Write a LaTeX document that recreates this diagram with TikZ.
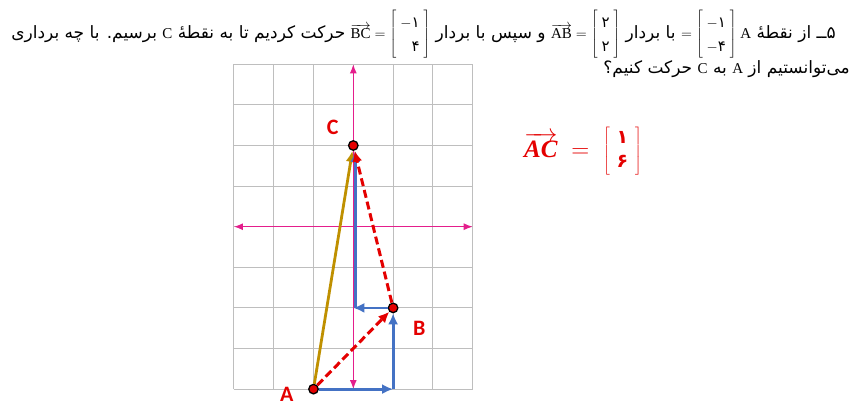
\documentclass[tikz,border=0pt]{standalone}
\usepackage{fontspec}
\setmainfont{Liberation Serif}
\newfontfamily\farsi[Script=Arabic]{DejaVu Sans}
\newfontfamily\calib{Carlito}
\TeXXeTstate=1
\usetikzlibrary{arrows.meta}

\definecolor{gridgray}{RGB}{190,190,190}
\definecolor{axispink}{RGB}{228,30,140}
\definecolor{vecblue}{RGB}{68,114,196}
\definecolor{vecgold}{RGB}{191,144,0}
\definecolor{vecred}{RGB}{228,0,0}

\newcommand{\fa}[1]{\mbox{\farsi #1}}
\newcommand{\en}[1]{\hbox{\rmfamily\fontsize{15}{18}\selectfont #1}}
\newcommand{\colvec}[2]{\def\arraystretch{1.35}\left[\begin{array}{@{\;}r@{\;}}#1\\#2\end{array}\right]}
\newcommand{\fab}[1]{\mbox{\farsi\bfseries\fontsize{19}{22}\selectfont #1}}
\newcommand{\acvec}{$\overrightarrow{\mbox{\bfseries\itshape AC}}\;=\;\def\arraystretch{0.8}\left[\begin{array}{@{\;}c@{\;}}\fab{۱}\\\fab{۶}\end{array}\right]$}

\tikzset{
  axisline/.style={axispink,line width=1.2pt,{Latex[length=9pt,width=7pt]}-{Latex[length=9pt,width=7pt]}},
  bluevec/.style={vecblue,line width=2.8pt,-{Latex[length=11pt,width=10pt]}},
  goldvec/.style={vecgold,line width=2.8pt,-{Latex[length=11pt,width=10pt]}},
  redvec/.style={vecred,line width=3pt,dash pattern=on 8pt off 4pt,-{Latex[length=11pt,width=10pt]}},
  ptdot/.style={circle,draw=black,fill=vecred,line width=1.3pt,inner sep=0pt,minimum size=9.5pt},
  lbl/.style={text=vecred,font=\calib\bfseries\fontsize{22}{22}\selectfont},
  txt/.style={font=\fontsize{17}{20}\selectfont,inner sep=0pt}
}

\begin{document}
\begin{tikzpicture}[x=1pt,y=-1pt]
\useasboundingbox (0,0) rectangle (861,413);

\begin{scope}[shift={(353.3,226.7)},x=39.8pt,y=40.6pt]
  \draw[gridgray,line width=1pt,step=1] (-3,-4) grid (3,4);
  \draw[axisline] (-3,0) -- (3,0);
  \draw[axisline] (0,-4) -- (0,4);
  \node[ptdot] (A) at (-1,-4) {};
  \node[ptdot] (B) at (1,-2) {};
  \node[ptdot] (C) at (0,2) {};
  \coordinate (A1) at (1,-4);
  \coordinate (B1) at (0,-2);
  \draw[goldvec] (A) -- (C);
  \draw[bluevec] (A) -- (A1);
  \draw[bluevec] (A1) -- (B);
  \draw[bluevec] (B) -- (B1);
  \draw[bluevec] ([xshift=2pt]B1) -- ([xshift=2pt]C.south);
  \draw[redvec] (A) -- (B);
  \draw[redvec] (B) -- (C);
  \node[lbl] (la) at (-1.67,-4.12) {A};
  \node[lbl] (lb) at (1.66,-2.5) {B};
  \node[lbl] (lc) at (-0.52,2.45) {C};
\end{scope}

\node[font=\fontsize{25}{30}\selectfont,text=vecred] (eqac) at (583,151) {\acvec};

\node[txt,anchor=base east] (line2) at (850,73) {\farsi\beginR می‌توانستیم از \en{A} به \en{C} حرکت کنیم؟\endR};
\node[txt,anchor=base east] (line1) at (836,38) {\farsi\beginR ۵ــ از نقطهٔ \en{A $=\colvec{-\fa{۱}}{-\fa{۴}}$} با بردار \en{$\overrightarrow{\mbox{AB}}=\colvec{\fa{۲}}{\fa{۲}}$} و سپس با بردار \en{$\overrightarrow{\mbox{BC}}=\colvec{-\fa{۱}}{\fa{۴}}$} حرکت کردیم تا به نقطهٔ \en{C} برسیم. با چه برداری\endR};
\end{tikzpicture}
\end{document}
